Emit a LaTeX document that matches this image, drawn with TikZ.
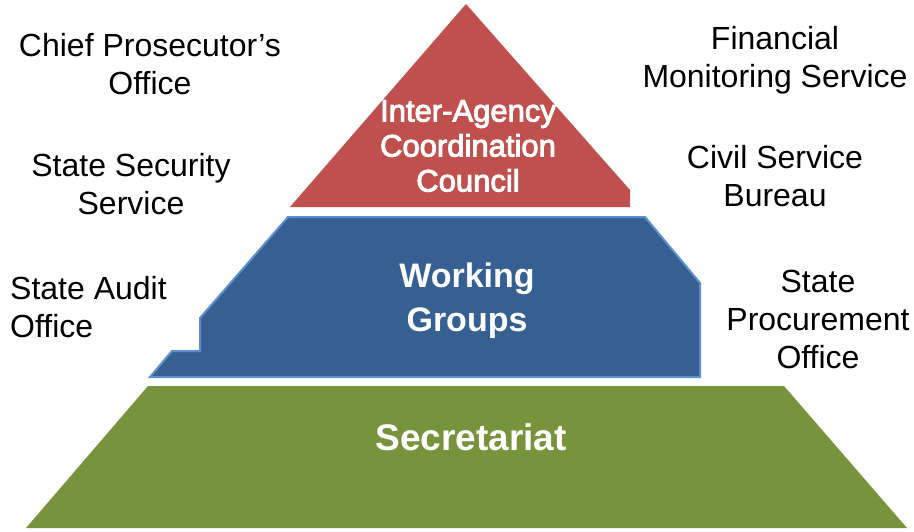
\documentclass[tikz,border=0pt]{standalone}
\usepackage{fontspec}
\setmainfont{Liberation Sans}
\newfontfamily\heavyfont[FakeBold=3]{Liberation Sans}
\definecolor{cred}{HTML}{C0504D}
\definecolor{cblue}{HTML}{376092}
\definecolor{cblueedge}{HTML}{5B8FD0}
\definecolor{cgreen}{HTML}{77933C}
\begin{document}
\begin{tikzpicture}[x=1pt,y=-1pt,
  side/.style={font=\fontsize{32}{38}\selectfont, text=black, inner sep=0pt, align=center},
  inlabel/.style={text=white, inner sep=0pt, align=center}]
\useasboundingbox (0,0) rectangle (914,531);
% green base
\fill[cgreen] (148,386) -- (784,386) -- (907,528) -- (26,528) -- cycle;
% blue middle
\filldraw[fill=cblue, draw=cblueedge, line width=2pt, line join=miter]
  (288,217) -- (645,217) -- (700,283) -- (700,377) -- (150,377) -- (172,351)
  -- (200,351) -- (200,318) -- cycle;
% red top
\fill[cred] (466,4) -- (630,190) -- (630,207) -- (290,207) -- cycle;

\node[inlabel, font=\heavyfont\fontsize{31}{35}\selectfont] (iacc) at (468,146) {Inter-Agency\\Coordination\\Council};
\node[inlabel, font=\fontsize{34}{44}\selectfont\bfseries] (wg) at (467,301) {Working\\Groups};
\node[inlabel, font=\fontsize{37}{44}\selectfont\bfseries] (sec) at (471,437) {Secretariat};

\node[side] (cpo) at (150,64) {Chief Prosecutor’s\\Office};
\node[side] (sss) at (131,184) {State Security\\Service};
\node[side, align=left, anchor=west] (sao) at (10,307) {State Audit\\Office};
\node[side] (fms) at (775,60) {Financial\\Monitoring Service};
\node[side] (csb) at (775,176) {Civil Service\\Bureau};
\node[side] (spo) at (818,319) {State\\Procurement\\Office};
\end{tikzpicture}
\end{document}
